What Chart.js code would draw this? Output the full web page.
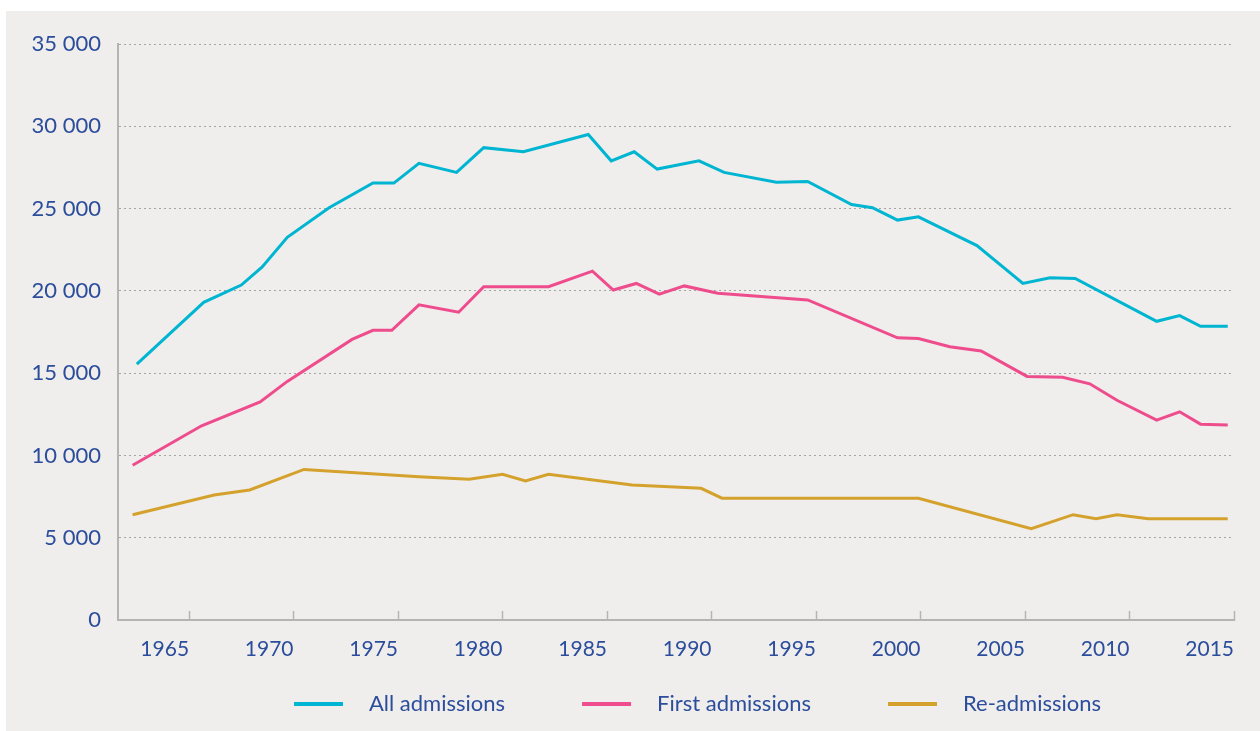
<!DOCTYPE html>
<html>
<head>
<meta charset="utf-8">
<script src="https://cdn.jsdelivr.net/npm/chart.js@4"></script>
<style>
  body { margin: 0; background: #ffffff; }
  #panel { position: absolute; left: 6px; top: 11px; width: 1254px; height: 720px; background: #efeeec; }
</style>
</head>
<body>
<div id="panel"><canvas id="admChart" width="1254" height="720"></canvas></div>
<script>
// Values (year, number of admissions)
const allYears  = [1962.5, 1965.7, 1967.5, 1968.5, 1969.7, 1971.7, 1973.8, 1974.8, 1976.0, 1977.8, 1979.1, 1981.0, 1984.1, 1985.2, 1986.3, 1987.4, 1989.4, 1990.6, 1993.1, 1994.6, 1996.7, 1997.7, 1998.9, 1999.9, 2002.7, 2004.9, 2006.2, 2007.4, 2011.3, 2012.4, 2013.4, 2014.7];
const allValues = [15550, 19300, 20350, 21450, 23250, 25050, 26550, 26550, 27750, 27200, 28700, 28450, 29500, 27900, 28450, 27400, 27900, 27200, 26600, 26650, 25250, 25050, 24300, 24500, 22750, 20450, 20800, 20750, 18150, 18500, 17850, 17850];

const firstYears  = [1962.3, 1965.6, 1968.4, 1969.7, 1972.8, 1973.8, 1974.7, 1976.0, 1977.9, 1979.1, 1982.2, 1984.3, 1985.3, 1986.4, 1987.5, 1988.7, 1990.3, 1994.6, 1998.9, 1999.9, 2001.4, 2002.9, 2005.1, 2006.8, 2008.1, 2009.4, 2011.3, 2012.4, 2013.4, 2014.7];
const firstValues = [9400, 11800, 13250, 14500, 17050, 17600, 17600, 19150, 18700, 20250, 20250, 21200, 20050, 20450, 19800, 20300, 19850, 19450, 17150, 17100, 16600, 16350, 14800, 14750, 14350, 13350, 12150, 12650, 11900, 11850];

const reYears  = [1962.3, 1966.2, 1967.9, 1970.5, 1976.0, 1978.4, 1980.0, 1981.1, 1982.2, 1986.2, 1989.5, 1990.5, 1999.9, 2005.3, 2007.3, 2008.4, 2009.4, 2010.9, 2014.7];
const reValues = [6400, 7600, 7900, 9150, 8700, 8550, 8850, 8450, 8850, 8200, 8000, 7400, 7400, 5550, 6400, 6150, 6400, 6150, 6150];

const seriesLabels = ['All admissions', 'First admissions', 'Re-admissions'];
const seriesColors = ['#00b5d1', '#ee4c8c', '#d4a22c'];

const tickYears = [1965, 1970, 1975, 1980, 1985, 1990, 1995, 2000, 2005, 2010, 2015];
const yTickLabels = ['0', '5 000', '10 000', '15 000', '20 000', '25 000', '30 000', '35 000'];

const textColor = '#2b4d9c';
const axisColor = '#b4b4b4';

function toPoints(xs, ys) {
    return xs.map((x, i) => ({ x: x, y: ys[i] }));
}

// Legend marker: a short line, with blank room before the label
function legendLine(color) {
    const c = document.createElement('canvas');
    c.width = 107;
    c.height = 4;
    const g = c.getContext('2d');
    g.fillStyle = color;
    g.fillRect(43, 0, 49, 4);
    return c;
}

const seriesData = [toPoints(allYears, allValues), toPoints(firstYears, firstValues), toPoints(reYears, reValues)];

new Chart(document.getElementById('admChart'), {
    type: 'line',
    data: {
        datasets: seriesLabels.map((label, i) => ({
            label: label,
            data: seriesData[i],
            borderColor: seriesColors[i],
            backgroundColor: seriesColors[i],
            borderWidth: 3,
            pointRadius: 0,
            tension: 0
        }))
    },
    options: {
        responsive: false,
        animation: false,
        devicePixelRatio: 1,
        layout: { padding: { left: 0, right: 26, top: 33, bottom: 6.5 } },
        plugins: {
            tooltip: { enabled: false },
            legend: {
                position: 'bottom',
                fullSize: false,
                labels: {
                    usePointStyle: true,
                    pointStyleWidth: 107,
                    padding: 34,
                    color: textColor,
                    font: { family: 'Lato', size: 22 },
                    generateLabels: (chart) => seriesLabels.map((label, i) => ({
                        text: label,
                        datasetIndex: i,
                        fillStyle: seriesColors[i],
                        strokeStyle: seriesColors[i],
                        lineWidth: 0,
                        pointStyle: legendLine(seriesColors[i]),
                        fontColor: textColor
                    }))
                }
            }
        },
        scales: {
            x: {
                type: 'linear',
                min: 1961.6,
                max: 2015,
                afterBuildTicks: (s) => { s.ticks = tickYears.map(v => ({ value: v })); },
                afterFit: (s) => { s.height = 38.5; },
                grid: { drawOnChartArea: false, drawTicks: true, tickLength: -9, tickWidth: 1.5, tickColor: axisColor },
                border: { color: axisColor, width: 2 },
                ticks: {
                    align: 'end',
                    padding: 26,
                    maxRotation: 0,
                    autoSkip: false,
                    color: textColor,
                    font: { family: 'Lato', size: 21 },
                    callback: (v) => String(v)
                }
            },
            y: {
                min: 0,
                max: 35000,
                afterFit: (s) => { s.width = 112; },
                grid: { color: '#a4a4a4', lineWidth: 1, drawTicks: false },
                border: { color: axisColor, width: 2, dash: [2, 3] },
                ticks: {
                    stepSize: 5000,
                    padding: 17,
                    color: textColor,
                    font: { family: 'Lato', size: 22 },
                    callback: (v, i) => yTickLabels[i]
                }
            }
        }
    }
});
</script>
</body>
</html>
